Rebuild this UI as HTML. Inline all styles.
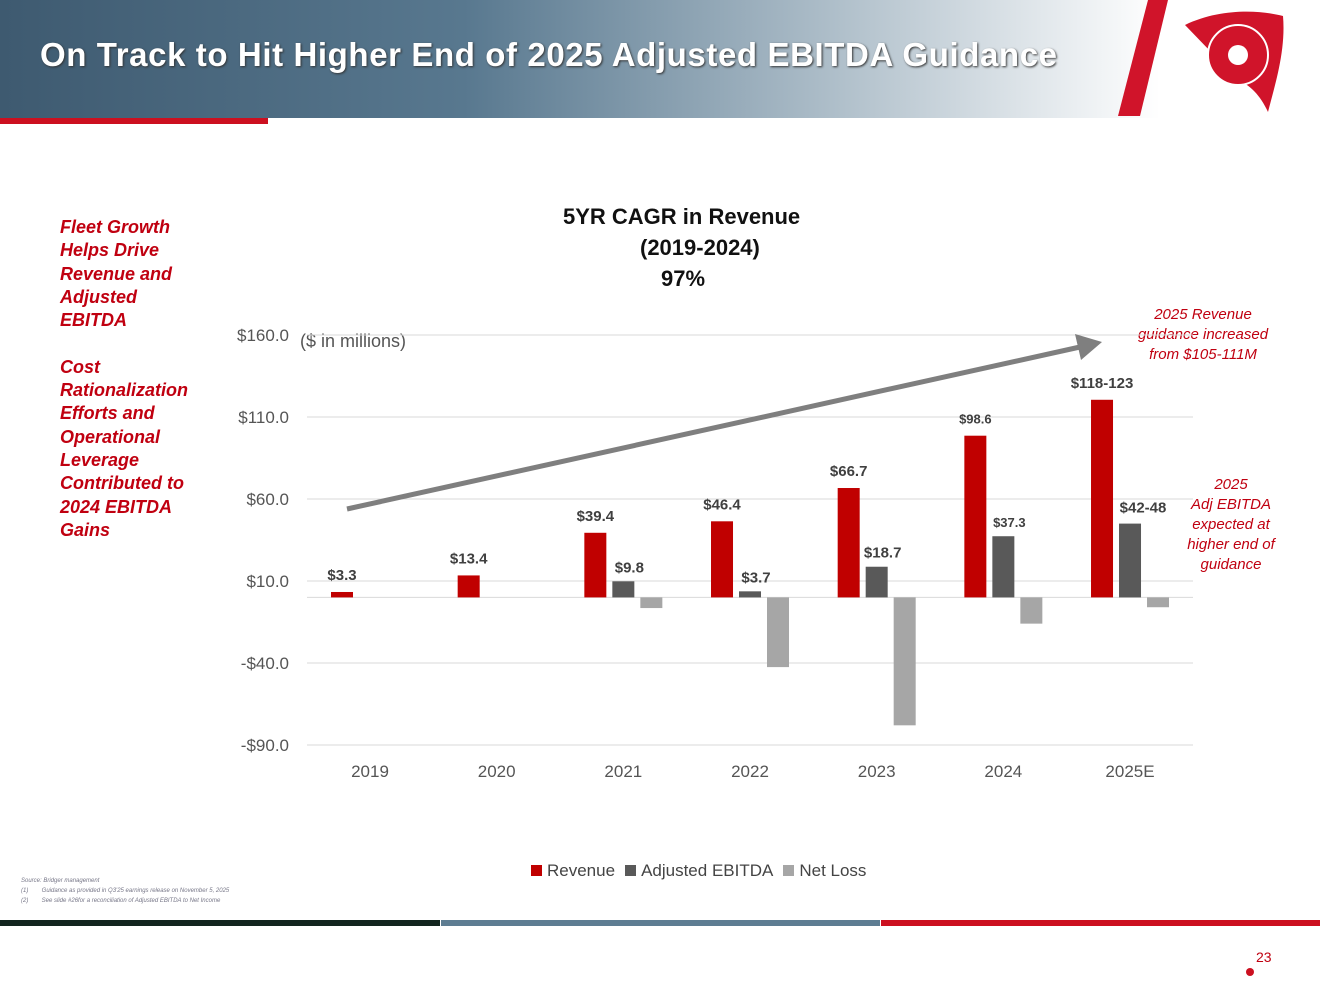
<!DOCTYPE html>
<html><head><meta charset="utf-8"><style>
body{margin:0;width:1320px;height:987px;background:#fff;position:relative;overflow:hidden;font-family:"Liberation Sans",sans-serif}
.abs{position:absolute}
</style></head><body>
<div class="abs" style="left:0;top:0;width:1160px;height:118px;background:linear-gradient(90deg,#3e5a70 0%,#58788f 40%,#a9bac6 70%,#fff 100%)"></div>
<div class="abs" style="left:0;top:118px;width:268px;height:6px;background:#cc1020"></div>
<div class="abs" style="left:40px;top:36px;font-size:33px;font-weight:bold;color:#fff;letter-spacing:0.6px;text-shadow:1px 1px 2px #333;white-space:nowrap">On Track to Hit Higher End of 2025 Adjusted EBITDA Guidance</div>
<svg class="abs" style="left:1100px;top:0" width="220" height="130">
<polygon points="48,0 68,0 40,116 18,116" fill="#d0142a"/>
<path d="M85,25 C120,8 160,10 183,16 C186,50 175,85 168,112 C160,95 150,85 138,80 Z" fill="#d0142a"/>
<circle cx="138" cy="55" r="30" fill="#d0142a" stroke="#fff" stroke-width="2"/>
<circle cx="138" cy="55" r="10" fill="#fff"/>
</svg>
<div class="abs" style="left:60px;top:216px;width:145px;font-size:18px;font-weight:bold;font-style:italic;color:#c00010;line-height:23.3px">Fleet Growth Helps Drive Revenue and Adjusted EBITDA<br><br>Cost Rationalization Efforts and Operational Leverage Contributed to 2024 EBITDA Gains</div>
<div class="abs" style="left:563px;top:201px;font-size:22px;font-weight:bold;color:#111;line-height:31px;white-space:nowrap">5YR CAGR in Revenue</div>
<div class="abs" style="left:640px;top:232px;font-size:22px;font-weight:bold;color:#111;line-height:31px">(2019-2024)</div>
<div class="abs" style="left:661px;top:263px;font-size:22px;font-weight:bold;color:#111;line-height:31px">97%</div>
<div class="abs" style="left:300px;top:331px;font-size:18px;color:#555">($ in millions)</div>
<div class="abs" style="left:1113px;top:305px;width:180px;text-align:center;font-size:15px;font-style:italic;color:#c00010;line-height:20px">2025 Revenue<br>guidance increased<br>from $105-111M</div>
<div class="abs" style="left:1172px;top:475px;width:118px;text-align:center;font-size:15px;font-style:italic;color:#c00010;line-height:20px">2025<br>Adj EBITDA expected at higher end of guidance</div>
<svg class="abs" id="chart" style="left:0;top:0" width="1320" height="900"></svg>
<div class="abs" style="left:531px;top:861px;font-size:17px;color:#444;display:flex;gap:10px;align-items:center">
<span><span style="display:inline-block;width:11px;height:11px;background:#c00000;margin-right:5px"></span>Revenue</span>
<span><span style="display:inline-block;width:11px;height:11px;background:#595959;margin-right:5px"></span>Adjusted EBITDA</span>
<span><span style="display:inline-block;width:11px;height:11px;background:#a6a6a6;margin-right:5px"></span>Net Loss</span></div>
<div class="abs" style="left:21px;top:876px;font-size:6px;font-style:italic;color:#778;line-height:10px">Source: Bridger management<br>(1)&nbsp;&nbsp;&nbsp;&nbsp;&nbsp;&nbsp;&nbsp;&nbsp;Guidance as provided in Q3'25 earnings release on November 5, 2025<br>(2)&nbsp;&nbsp;&nbsp;&nbsp;&nbsp;&nbsp;&nbsp;&nbsp;See slide #26for a reconciliation of Adjusted EBITDA to Net Income</div>
<div class="abs" style="left:0;top:920px;width:440px;height:6px;background:#13261f"></div>
<div class="abs" style="left:441px;top:920px;width:439px;height:6px;background:#5e7d92"></div>
<div class="abs" style="left:881px;top:920px;width:439px;height:6px;background:#cc1020"></div>
<div class="abs" style="left:1256px;top:949px;font-size:14px;color:#c00010">23</div>
<div class="abs" style="left:1246px;top:968px;width:8px;height:8px;border-radius:50%;background:#cc1020"></div>
<script>
const categories=["2019","2020","2021","2022","2023","2024","2025E"];
const revenue=[3.3,13.4,39.4,46.4,66.7,98.6,120.5];
const revenueLabels=["$3.3","$13.4","$39.4","$46.4","$66.7","$98.6","$118-123"];
const ebitda=[null,null,9.8,3.7,18.7,37.3,45];
const ebitdaLabels=["","","$9.8","$3.7","$18.7","$37.3","$42-48"];
const netLoss=[null,null,-6.5,-42.5,-78,-16,-6];
const ticks=[160,110,60,10,-40,-90];
const tickLabels=["$160.0","$110.0","$60.0","$10.0","-$40.0","-$90.0"];
const svg=document.getElementById('chart');
const NS='http://www.w3.org/2000/svg';
const y=v=>581-(v-10)*1.64;
const x=i=>370+i*126.67;
function mk(t,a){const e=document.createElementNS(NS,t);for(const k in a)e.setAttribute(k,a[k]);svg.appendChild(e);return e;}
ticks.forEach((t,i)=>{
const l=mk('line',{x1:307,x2:1193,y1:y(t),y2:y(t),stroke:'#d9d9d9','stroke-width':1});


const tx=mk('text',{x:289,y:y(t)+6,'text-anchor':'end','font-size':17,fill:'#555','font-family':'Liberation Sans'});tx.textContent=tickLabels[i];


});
const z=mk('line',{x1:307,x2:1193,y1:y(0),y2:y(0),stroke:'#d9d9d9'});


function bar(cx,v,col,name){const y0=y(0),y1=y(v);const r=mk('rect',{x:cx,y:Math.min(y0,y1),width:22,height:Math.abs(y1-y0),fill:col});

}
function lab(cx,yy,s,size){const t=mk('text',{x:cx,y:yy,'text-anchor':'middle','font-size':size||15,'font-weight':'bold',fill:'#404040','font-family':'Liberation Sans'});t.textContent=s;

}
categories.forEach((c,i)=>{
const cx=x(i);
bar(cx-39,revenue[i],'#c00000','bar-revenue');
lab(cx-28,y(revenue[i])-12,revenueLabels[i],i==5?13:15);
if(ebitda[i]!=null){bar(cx-11,ebitda[i],'#595959','bar-ebitda');lab(cx+(i==6?13:6),y(ebitda[i])-(i==6?11:9),ebitdaLabels[i],i==5?13:15);}
if(netLoss[i]!=null)bar(cx+17,netLoss[i],'#a6a6a6','bar-net-loss');
const t=mk('text',{x:cx,y:777,'text-anchor':'middle','font-size':17,fill:'#555','font-family':'Liberation Sans'});t.textContent=c;


});
const ar=mk('line',{x1:347,y1:509,x2:1080,y2:347,stroke:'#7f7f7f','stroke-width':5});


const ah=mk('polygon',{points:'1102,342 1075,334 1081,360',fill:'#7f7f7f'});


</script>
</body></html>
